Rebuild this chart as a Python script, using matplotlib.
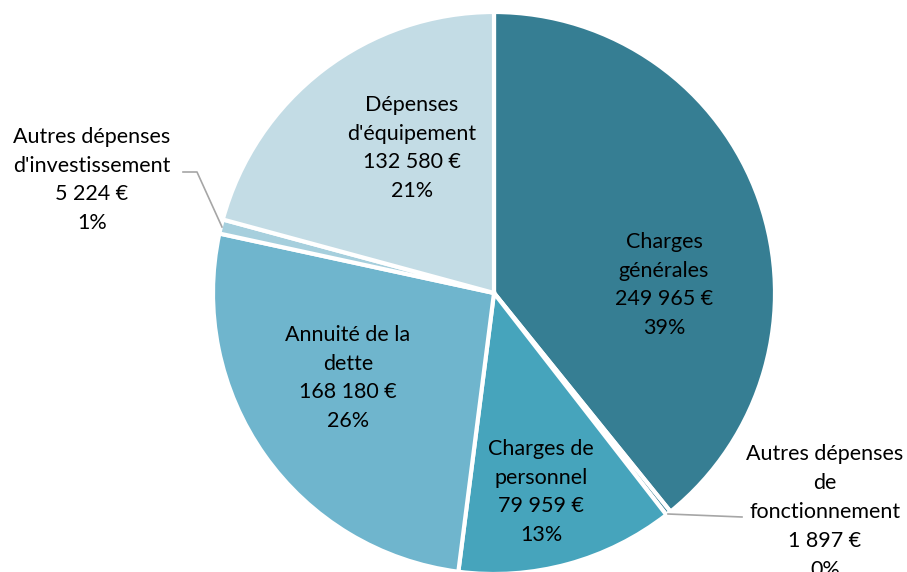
import numpy as np
import matplotlib.pyplot as plt

plt.rcParams['font.family'] = ['Lato', 'DejaVu Sans']

# postes de dépenses, dans l'ordre horaire depuis midi
labels = ["Charges\ngénérales", "Autres dépenses\nde\nfonctionnement", "Charges de\npersonnel",
          "Annuité de la\ndette", "Autres dépenses\nd'investissement", "Dépenses\nd'équipement"]
values = [249965, 1897, 79959, 168180, 5224, 132580]
colors = ["#367e93", "#367e93", "#46a4bc", "#6fb5cd", "#a6cfdd", "#c3dce5"]

# label anchor positions in pixels (x, y from top)
lab_pos = [(664, 285), (825, 512), (541, 492), (348, 378), (92, 180), (412, 148)]

W, H = 907, 572
fig = plt.figure(figsize=(W / 100, H / 100), dpi=100)
ax = fig.add_axes([0, 0, 1, 1])

cx, cy, r = 494, H - 293, 281
wedges, _ = ax.pie(values, colors=colors, startangle=90, counterclock=False,
                   center=(cx, cy), radius=r, frame=True,
                   wedgeprops=dict(edgecolor='white', linewidth=3))
ax.set_xlim(0, W)
ax.set_ylim(0, H)
ax.set_aspect('equal')
ax.axis('off')

total = sum(values)
def fmt(v):
    return f"{v:,}".replace(",", " ") + " €"

for lab, v, (x, y) in zip(labels, values, lab_pos):
    pct = round(100 * v / total)
    ax.text(x, H - y, f"{lab}\n{fmt(v)}\n{pct}%", ha='center', va='center',
            fontsize=15.5, color='#000000', linespacing=1.55)

# leader lines for the small slices
ax.plot([668, 742], [H - 514, H - 517], color='#a6a6a6', lw=1.2)
ax.plot([222, 197, 183], [H - 227, H - 172, H - 172], color='#a6a6a6', lw=1.2)

fig.savefig("out.png", dpi=100)
